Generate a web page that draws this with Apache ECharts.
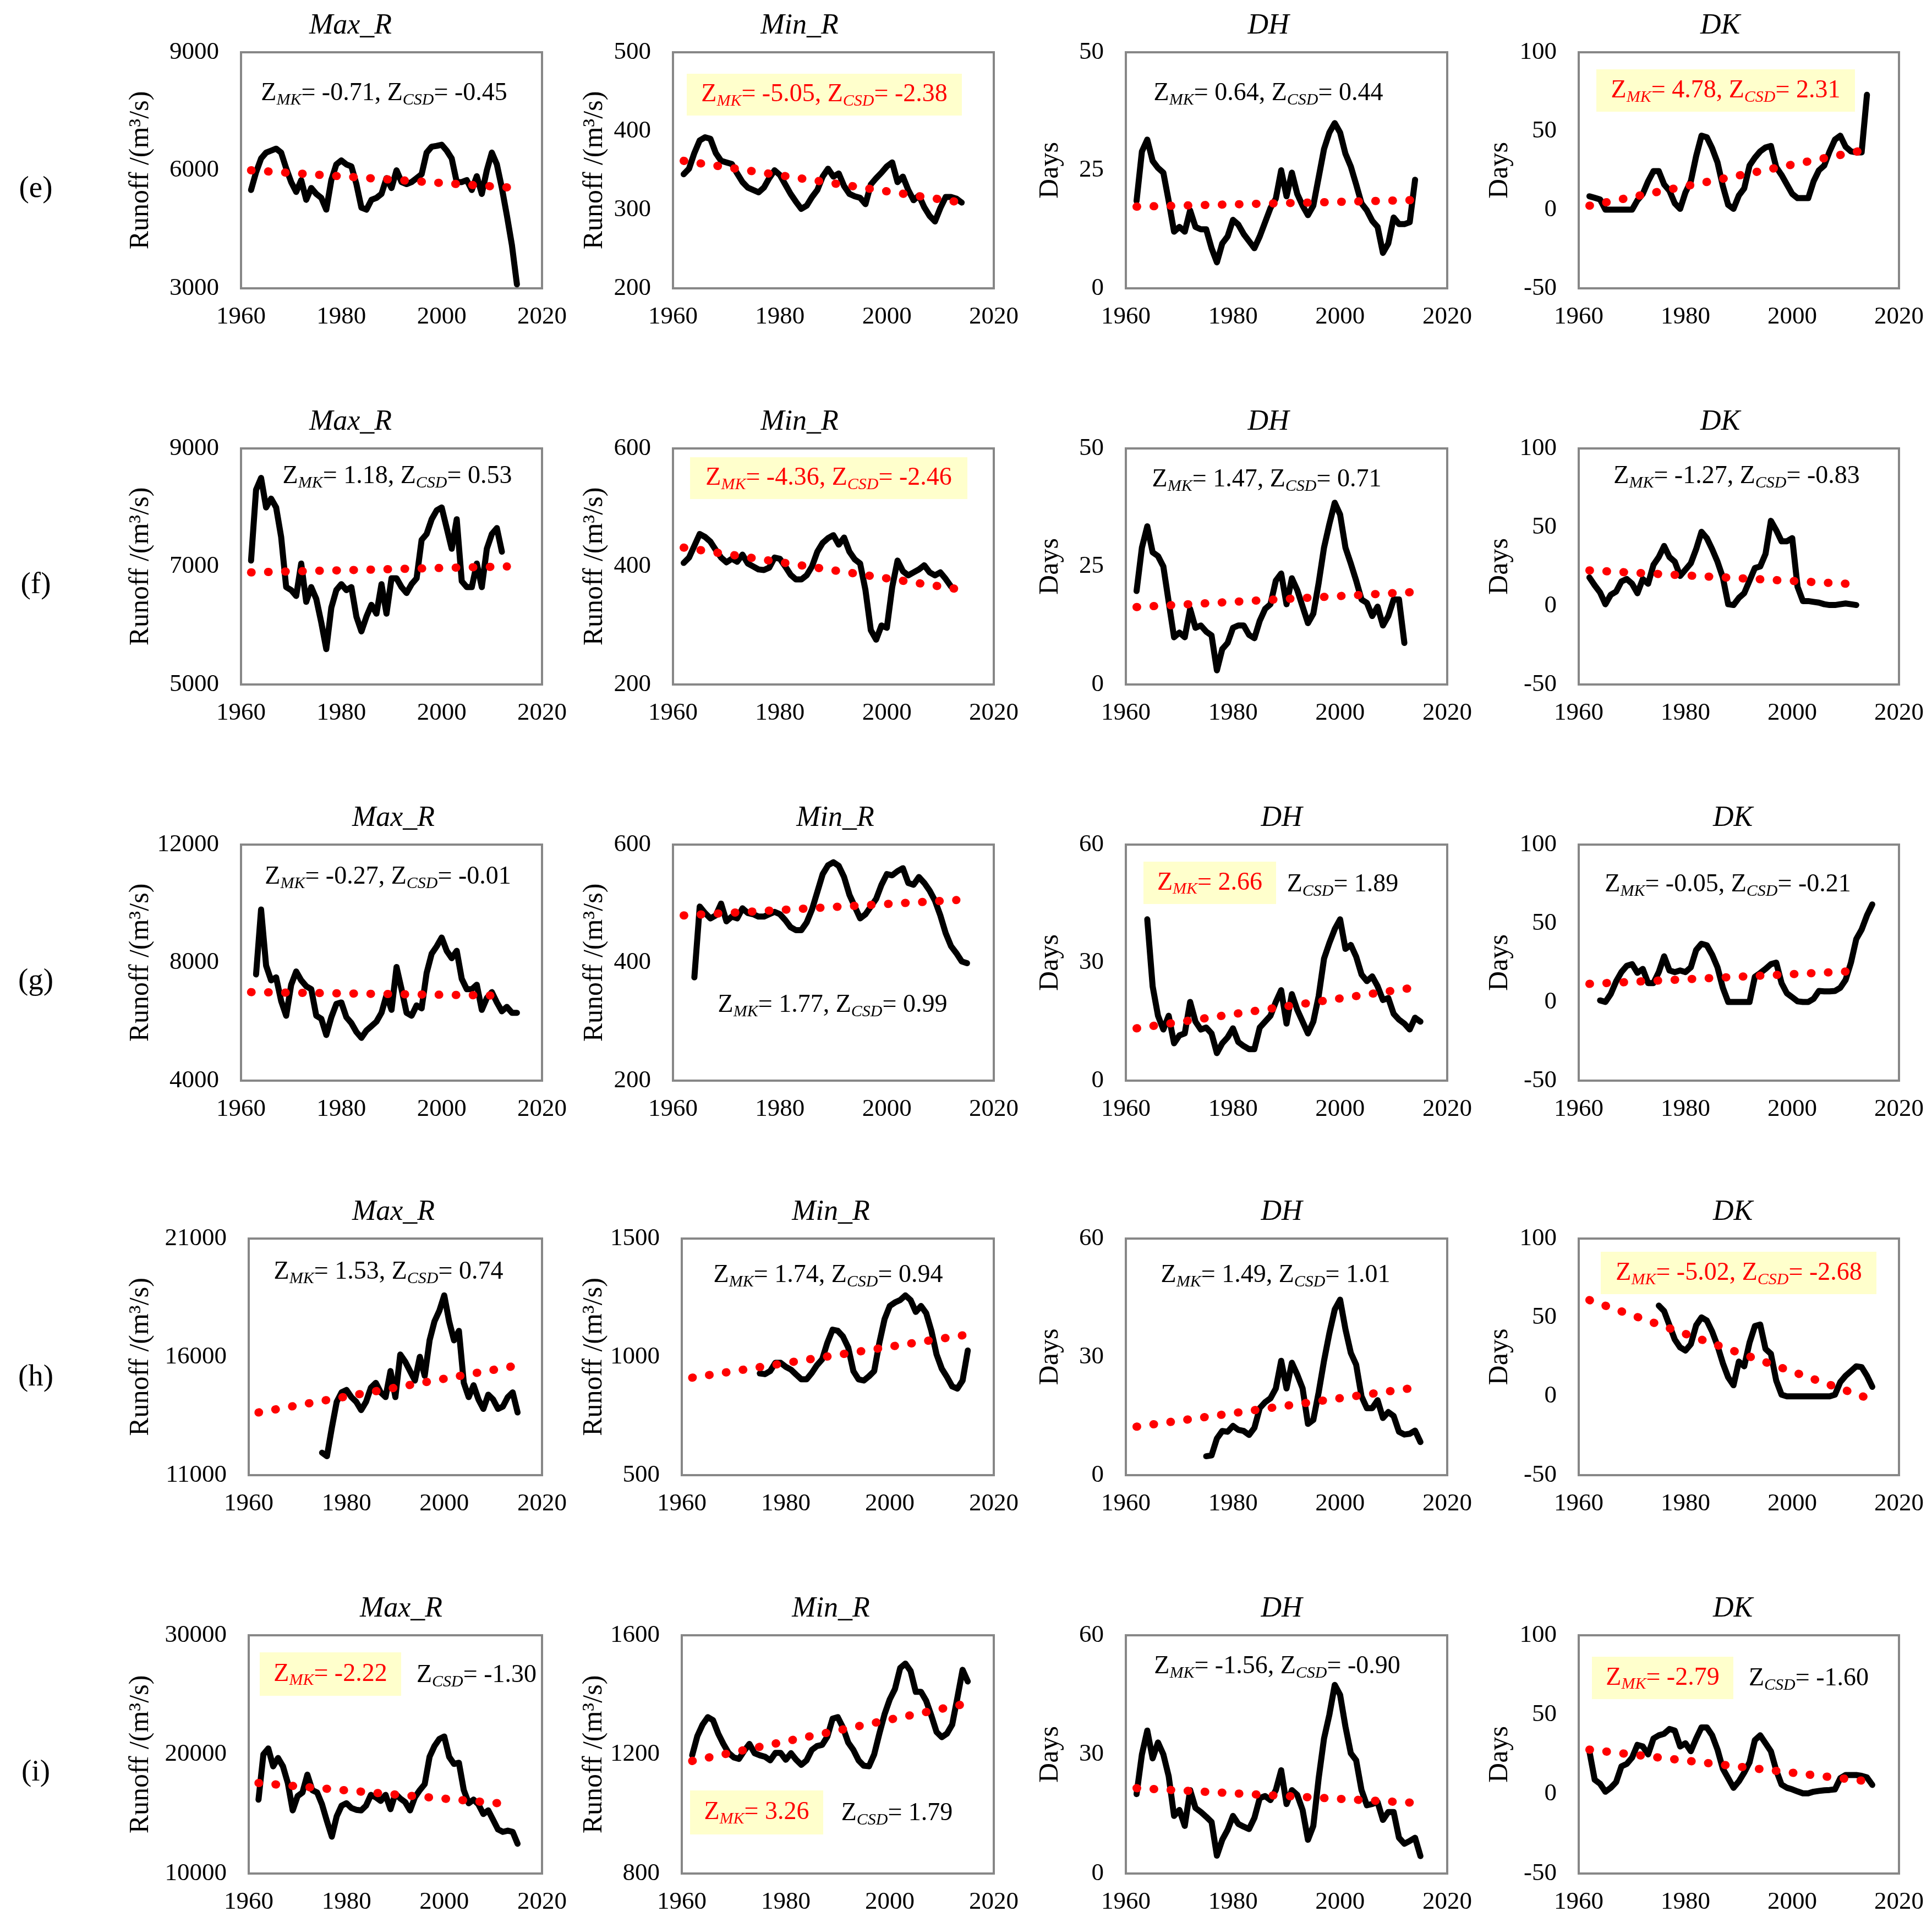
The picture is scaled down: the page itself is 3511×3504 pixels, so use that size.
<!DOCTYPE html>
<html><head><meta charset="utf-8">
<script src="https://cdn.jsdelivr.net/npm/echarts@6/dist/echarts.min.js"></script>
<style>html,body{margin:0;padding:0;background:#fff}#c{width:3511px;height:3504px}</style>
</head><body><div id="c"></div><script>
// ---------- DATA (annual values, first year given separately) ----------
const rowLabels = ['(e)', '(f)', '(g)', '(h)', '(i)'];
const panelTitles = ['Max_R', 'Min_R', 'DH', 'DK'];
const xTicks = [1960, 2020, 20];

const e_maxR_start = 1962;
const e_maxR = [5500,5950,6300,6450,6500,6550,6450,6050,5700,5450,5750,5250,5550,5400,5300,5000,5750,6150,6250,6150,6100,5650,5050,5000,5250,5300,5400,5800,5550,6000,5700,5650,5700,5800,5900,6450,6600,6620,6650,6500,6300,5700,5700,5750,5500,5850,5400,6000,6450,6150,5550,4850,4100,3100];
const e_maxR_trend = [[1962,6000],[2015,5550]];
const e_minR_start = 1962;
const e_minR = [345,352,372,388,392,390,372,362,360,358,346,335,328,325,322,328,340,350,344,332,320,310,301,305,316,325,342,352,342,346,330,320,317,315,307,332,340,347,355,360,335,342,325,312,318,303,292,285,302,316,316,314,309];
const e_minR_trend = [[1962,362],[2014,309]];
const e_DH_start = 1962;
const e_DH = [18.5,29,31.5,27,25.5,24.5,18.5,12,13,12,16.5,13,12.5,12.5,8.5,5.5,9.5,11,14.5,13.5,11.5,10,8.5,11,14,17,19,25,19.5,24.5,20,17.5,15.5,17.5,23.5,29.5,33,35,33,28.5,25.8,22,18,16.5,14.3,13,7.5,9.5,15,13.6,13.6,14,23];
const e_DH_trend = [[1962,17.3],[2014,18.7]];
const e_DK_start = 1962;
const e_DK = [8.5,7.5,6.5,0,0,0,0,0,0,6,10,18,24.5,24.5,16,12,4,0.5,11,18,34,47,46,39,30,15,3,0.5,9,13.5,28,33,37,39.5,40.5,27,22,16,10,7.3,7.3,7.3,18,25,28,37,44.5,47,40,37,36.4,36.4,73];
const e_DK_trend = [[1962,2.5],[2013,37.5]];

const f_maxR_start = 1962;
const f_maxR = [7100,8300,8500,8000,8150,8000,7500,6650,6600,6500,7050,6400,6650,6450,6050,5600,6300,6600,6700,6600,6650,6150,5900,6150,6350,6200,6700,6200,6800,6800,6650,6550,6700,6800,7450,7550,7800,7950,8000,7650,7300,7800,6750,6650,6650,7050,6650,7300,7550,7650,7250];
const f_maxR_trend = [[1962,6900],[2013,7000]];
const f_minR_start = 1962;
const f_minR = [406,415,435,455,450,442,428,415,407,413,408,420,405,400,395,394,398,415,413,400,386,378,378,385,400,425,440,448,453,437,449,425,412,405,360,292,276,300,296,365,410,392,385,390,395,402,390,385,390,379,366];
const f_minR_trend = [[1962,432],[2013,362]];
const f_DH_start = 1962;
const f_DH = [19.8,29,33.5,28,27.2,25,17.5,10,11,10,16,12,12.5,11.2,10.4,3,7.5,8.8,12,12.5,12.5,10.5,9.8,13.5,16,17,22,23.5,17,22.5,20,16.5,13,15,21.5,29,34,38.5,36,29,25.6,22,18,17.3,14.5,16.5,12.5,14.5,18,18,8.8];
const f_DH_trend = [[1962,16.4],[2014,19.6]];
const f_DK_start = 1962;
const f_DK = [18,13,8.5,1,7,9,15.5,17,14,8,17,14,26,31,38,31,28,19,23,27,36,47,43,36,28,18,1,0.5,5,8,16,24,25,33,54,48,41,41,43,12,3,3,2.5,2,1,0.5,0.5,1,1.5,1,0.5];
const f_DK_trend = [[1962,22.5],[2013,13.5]];

const g_maxR_start = 1963;
const g_maxR = [7600,9800,7900,7400,7500,6700,6200,7250,7700,7400,7200,7100,6200,6100,5550,6150,6600,6650,6150,5950,5650,5450,5700,5850,6000,6300,6900,6400,7850,7100,6300,6200,6550,6450,7650,8300,8550,8850,8400,8150,8400,7450,7100,7100,7250,6400,6800,7000,6650,6350,6500,6300,6300];
const g_maxR_trend = [[1962,7000],[2013,6880]];
const g_minR_start = 1964;
const g_minR = [375,495,484,475,480,500,470,478,475,492,484,482,478,478,482,486,482,472,460,455,455,468,490,520,550,565,570,564,545,515,495,475,482,495,508,532,550,548,555,560,535,532,545,535,522,505,480,450,428,416,402,399];
const g_minR_trend = [[1962,480],[2013,506]];
const g_DH_start = 1964;
const g_DH = [41,24,16.5,13,16.5,9.5,11.5,12,20,15,13,13.5,12,7,9.5,11,13.3,9.8,8.8,8,8,13.5,15,16.5,20,23,14.5,22,18,15,12,15,21.5,31,35,38.5,41,33.5,34.5,31.5,27,25.3,26.5,24,20.5,21,17,15.5,14.5,13,16,15];
const g_DH_trend = [[1962,13.3],[2013,23.5]];
const g_DK_start = 1964;
const g_DK = [1,0,5,13,19,23,24,18.5,21,12,12,19,29,20,19,20,19,22,33,37,36,30,22,9,0,0,0,0,0,16,18.4,21,24,25,12,5.5,3,0.4,0,0,2,7,6.7,6.7,7,9,14,25,40,46,55,62];
const g_DK_trend = [[1962,11.5],[2013,19.8]];

const h_maxR_start = 1975;
const h_maxR = [11950,11800,13000,14100,14500,14600,14300,14100,13750,14100,14700,14900,14500,14300,15400,14300,16100,15800,15400,15000,16000,15200,16700,17500,17950,18600,17500,16700,17100,14900,14300,14800,14200,13800,14400,14200,13800,13900,14300,14500,13650];
const h_maxR_trend = [[1962,13650],[2014,15600]];
const h_minR_start = 1975;
const h_minR = [930,927,940,975,975,958,946,925,905,905,932,965,990,1060,1115,1110,1086,1040,940,905,900,918,940,1060,1160,1215,1230,1240,1260,1240,1190,1215,1185,1110,1010,950,915,875,866,900,1027];
const h_minR_trend = [[1962,912],[2014,1091]];
const h_DH_start = 1975;
const h_DH = [4.8,5,9.3,11.2,11,12.5,11.5,11.2,10.2,12,17,18.5,19.5,22,29,22,28.5,25.5,22,13,14,21,29,36,42,44.5,37,31,28,20,17,17,19,14.5,16,15,11,10.3,10.5,11.3,8.4];
const h_DH_trend = [[1962,12.3],[2013,22]];
const h_DK_start = 1975;
const h_DK = [57.5,54,45,36,31,29,33,45,50,48,41,32,21,12,7,22,19,34,44.5,45.5,30,27,10,1,0,0,0,0,0,0,0,0,0,1,9,13,16,19,18.5,13,6];
const h_DK_trend = [[1962,61],[2014,-1]];

const i_maxR_start = 1962;
const i_maxR = [16200,20000,20500,19000,19700,19000,17600,15300,16500,16800,18300,17000,16800,15800,14400,13100,14800,15700,15900,15500,15350,15300,15700,16600,16400,16100,16600,15400,16700,16300,16000,15300,16400,17000,17500,19800,20700,21300,21500,19800,19200,19300,17000,15900,16200,15800,15000,15300,14500,13700,13500,13600,13500,12500];
const i_maxR_trend = [[1962,17600],[2014,15800]];
const i_minR_start = 1962;
const i_minR = [1197,1262,1300,1325,1315,1270,1235,1205,1190,1185,1212,1235,1204,1197,1192,1180,1205,1205,1182,1204,1182,1165,1180,1215,1228,1232,1260,1320,1325,1290,1240,1215,1180,1162,1160,1200,1270,1335,1385,1420,1490,1505,1480,1410,1410,1380,1330,1275,1258,1270,1300,1390,1484,1445];
const i_minR_trend = [[1962,1178],[2014,1368]];
const i_DH_start = 1962;
const i_DH = [20,30,36,29,33,30,24.5,14.5,16,12,21,16.5,15.5,14.3,13,4.5,8.5,11,14.5,12.5,11.8,11.2,14,19,19.5,18.5,21,26,17.5,21,19.8,16,8.5,12,24,34,40,47.5,45,37,30.3,28.5,21,17.2,17.5,18,13.5,15.5,15.5,9,7.5,8.2,9,4.4];
const i_DH_trend = [[1962,21.5],[2014,17.8]];
const i_DK_start = 1962;
const i_DK = [27,9,6.5,1.5,4,7.5,17.5,19,23,31,30,25,35,37,38,41,40,30,32,27,35,42,42,37,28,16,10,4,8,13.5,20,34,37,32,27,15,6,4,3,1.7,0.5,0.5,1.5,2,2.4,2.6,3,10,12,12,12,11.5,10.5,5.8];
const i_DK_trend = [[1962,28],[2013,8.5]];

// y-axis ranges [min, max, interval] per row/column
const yAxes = [
  [[3000,9000,3000],[200,500,100],[0,50,25],[-50,100,50]],
  [[5000,9000,2000],[200,600,200],[0,50,25],[-50,100,50]],
  [[4000,12000,4000],[200,600,200],[0,60,30],[-50,100,50]],
  [[11000,21000,5000],[500,1500,500],[0,60,30],[-50,100,50]],
  [[10000,30000,10000],[800,1600,400],[0,60,30],[-50,100,50]]
];
const series = [
  [[e_maxR_start,e_maxR,e_maxR_trend],[e_minR_start,e_minR,e_minR_trend],[e_DH_start,e_DH,e_DH_trend],[e_DK_start,e_DK,e_DK_trend]],
  [[f_maxR_start,f_maxR,f_maxR_trend],[f_minR_start,f_minR,f_minR_trend],[f_DH_start,f_DH,f_DH_trend],[f_DK_start,f_DK,f_DK_trend]],
  [[g_maxR_start,g_maxR,g_maxR_trend],[g_minR_start,g_minR,g_minR_trend],[g_DH_start,g_DH,g_DH_trend],[g_DK_start,g_DK,g_DK_trend]],
  [[h_maxR_start,h_maxR,h_maxR_trend],[h_minR_start,h_minR,h_minR_trend],[h_DH_start,h_DH,h_DH_trend],[h_DK_start,h_DK,h_DK_trend]],
  [[i_maxR_start,i_maxR,i_maxR_trend],[i_minR_start,i_minR,i_minR_trend],[i_DH_start,i_DH,i_DH_trend],[i_DK_start,i_DK,i_DK_trend]]
];
// test statistics: [MK, CSD, MK significant, CSD significant]
const stats = [
  [['-0.71','-0.45',0,0],['-5.05','-2.38',1,1],['0.64','0.44',0,0],['4.78','2.31',1,1]],
  [['1.18','0.53',0,0],['-4.36','-2.46',1,1],['1.47','0.71',0,0],['-1.27','-0.83',0,0]],
  [['-0.27','-0.01',0,0],['1.77','0.99',0,0],['2.66','1.89',1,0],['-0.05','-0.21',0,0]],
  [['1.53','0.74',0,0],['1.74','0.94',0,0],['1.49','1.01',0,0],['-5.02','-2.68',1,1]],
  [['-2.22','-1.30',1,0],['3.26','1.79',1,0],['-1.56','-0.90',0,0],['-2.79','-1.60',1,0]]
];

// ---------- LAYOUT ----------
const FONT = '"Liberation Serif", "Times New Roman", serif';
const rowBox = [[95,524],[815,1244],[1535,1964],[2251,2681],[2972,3405]];
const colBoxA = [[438,985],[1223,1806],[2046,2630],[2869,3451]];
const colBoxB = [[452,985],[1239,1806],[2046,2630],[2869,3451]];
const nameGapA = [157,117,112,118];
const nameGapB = [171,133,112,118];
const titlePos = [
  [[637,47],[1453,47],[2305,47],[3126,47]],
  [[637,767],[1453,767],[2305,767],[3126,767]],
  [[715,1487],[1518,1487],[2329,1487],[3149,1487]],
  [[715,2203],[1510,2203],[2329,2203],[3149,2203]],
  [[729,2924],[1510,2924],[2329,2924],[3149,2924]]
];
const rowLabelY = [344,1064,1784,2504,3222];
// annotation placement: single text centre, or [mk box rect, csd text centre]
const annPos = [
  [{c:[698,170]},{c:[1498,172],box:[1248,134,500,76]},{c:[2305,170]},{c:[3136,165],box:[2901,126,470,77]}],
  [{c:[722,866]},{c:[1506,869],box:[1254,831,504,76]},{c:[2302,872]},{c:[3156,866]}],
  [{c:[705,1594]},{c:[1513,1827]},{split:true,box:[2078,1566,241,77],c2:[2440,1608]},{c:[3140,1608]}],
  [{c:[706,2312]},{c:[1505,2318]},{c:[2318,2318]},{c:[3160,2314],box:[2909,2275,501,77]}],
  [{split:true,box:[472,3003,257,79],c2:[866,3045]},{split:true,box:[1254,3254,242,80],c2:[1630,3296]},{c:[2321,3029]},{split:true,box:[2893,3011,257,77],c2:[3287,3051]}]
];

const grids = [], xAxes = [], yAxesOpt = [], seriesOpt = [], graphics = [];
const plain = v => String(v);
function rich(color){
  return {
    n:{fontSize:46,fontFamily:FONT,color:color,lineHeight:54,verticalAlign:'middle'},
    s:{fontSize:30,fontFamily:FONT,fontStyle:'italic',color:color,lineHeight:28,verticalAlign:'bottom'}
  };
}
function addText(x,y,text,color){
  graphics.push({type:'text',x:x,y:y,z:10,style:{text:text,rich:rich(color),align:'center',verticalAlign:'middle',fill:color}});
}
for (let r=0;r<5;r++){
  graphics.push({type:'text',x:65,y:rowLabelY[r],style:{text:rowLabels[r],font:'55px '+FONT,fill:'#000',align:'center',verticalAlign:'middle'}});
  for (let c=0;c<4;c++){
    const idx = r*4+c;
    const cb = (r>=3?colBoxB:colBoxA)[c];
    const rb = rowBox[r];
    grids.push({left:cb[0],top:rb[0],width:cb[1]-cb[0],height:rb[1]-rb[0],show:true,borderColor:'#878787',borderWidth:4,backgroundColor:'#fff',containLabel:false});
    xAxes.push({type:'value',gridIndex:idx,min:xTicks[0],max:xTicks[1],interval:xTicks[2],
      axisLine:{show:false},axisTick:{show:false},splitLine:{show:false},
      axisLabel:{fontSize:45,fontFamily:FONT,color:'#000',margin:30,showMinLabel:true,showMaxLabel:true,formatter:plain}});
    const ya = yAxes[r][c];
    yAxesOpt.push({type:'value',gridIndex:idx,min:ya[0],max:ya[1],interval:ya[2],
      axisLine:{show:false},axisTick:{show:false},splitLine:{show:false},
      axisLabel:{fontSize:45,fontFamily:FONT,color:'#000',margin:40,showMinLabel:true,showMaxLabel:true,formatter:plain},
      name:(c<2?'Runoff /(m³/s)':'Days'),nameLocation:'middle',nameRotate:90,
      nameGap:(r>=3?nameGapB:nameGapA)[c],
      nameTextStyle:{fontSize:50,fontFamily:FONT,color:'#000'}});
    const s = series[r][c];
    seriesOpt.push({type:'line',xAxisIndex:idx,yAxisIndex:idx,symbol:'none',z:2,
      data:s[1].map((v,k)=>[s[0]+k,v]),
      lineStyle:{color:'#000',width:11,join:'round',cap:'round'}});
    seriesOpt.push({type:'line',xAxisIndex:idx,yAxisIndex:idx,symbol:'none',z:3,
      data:s[2],
      lineStyle:{color:'#ff0000',width:15,type:[1,30],cap:'round'}});
    // panel title
    const tp = titlePos[r][c];
    graphics.push({type:'text',x:tp[0],y:tp[1],style:{text:panelTitles[c],font:'italic 52px '+FONT,fill:'#000',align:'center',verticalAlign:'middle'}});
    // annotation
    const st = stats[r][c], ap = annPos[r][c];
    if (ap.split){
      const b = ap.box;
      graphics.push({type:'rect',shape:{x:b[0],y:b[1],width:b[2],height:b[3]},style:{fill:'#ffffcc'},z:9});
      addText(b[0]+b[2]/2,b[1]+b[3]/2,'{n|Z}{s|MK}{n|= '+st[0]+'}','#ff0000');
      addText(ap.c2[0],ap.c2[1],'{n|Z}{s|CSD}{n|= '+st[1]+'}','#000');
    } else {
      const col = st[2]?'#ff0000':'#000';
      if (ap.box){
        const b = ap.box;
        graphics.push({type:'rect',shape:{x:b[0],y:b[1],width:b[2],height:b[3]},style:{fill:'#ffffcc'},z:9});
      }
      addText(ap.c[0],ap.c[1],'{n|Z}{s|MK}{n|= '+st[0]+', Z}{s|CSD}{n|= '+st[1]+'}',col);
    }
  }
}

const chart = echarts.init(document.getElementById('c'), null, {renderer:'canvas'});
chart.setOption({
  animation:false,
  backgroundColor:'#fff',
  grid:grids, xAxis:xAxes, yAxis:yAxesOpt, series:seriesOpt,
  graphic:{elements:graphics}
});
</script></body></html>
